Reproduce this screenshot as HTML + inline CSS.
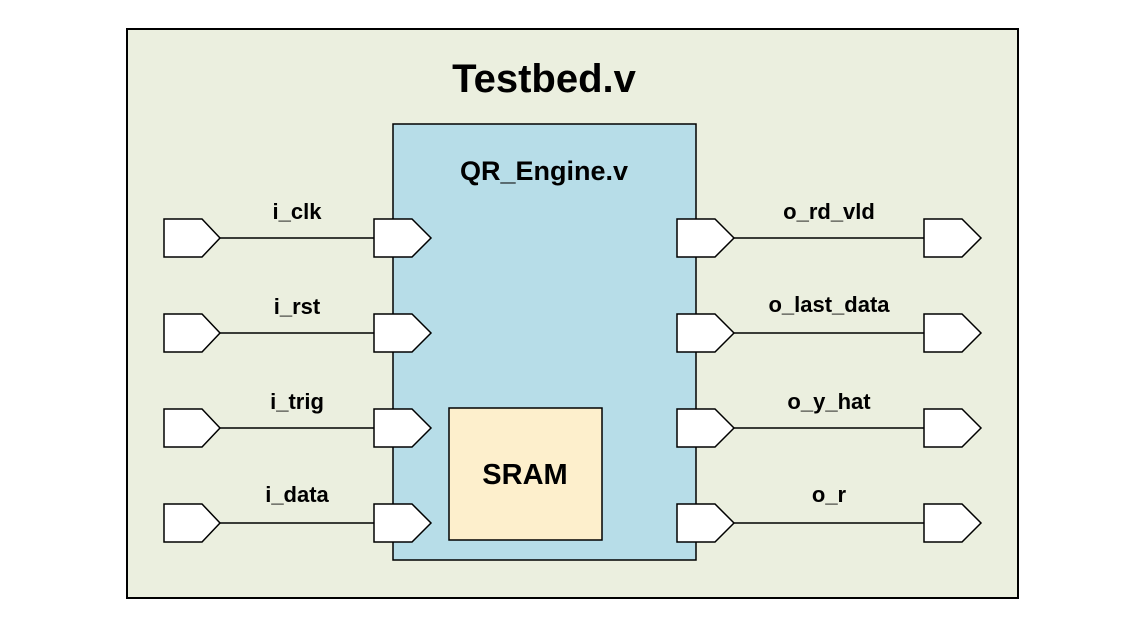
<!DOCTYPE html>
<html><head><style>body{margin:0;background:#fff}</style></head><body>
<svg width="1144" height="630" xmlns="http://www.w3.org/2000/svg" font-family="Liberation Sans, sans-serif" font-weight="bold">
<rect x="127" y="29" width="891" height="569" fill="#ebefdf" stroke="#000" stroke-width="2"/>
<text x="544" y="92" font-size="40" text-anchor="middle">Testbed.v</text>
<rect x="393" y="124" width="303" height="436" fill="#b7dde8" stroke="#000" stroke-width="1.5"/>
<text x="544" y="180" font-size="27" text-anchor="middle">QR_Engine.v</text>
<rect x="449" y="408" width="153" height="132" fill="#fdefcc" stroke="#000" stroke-width="1.5"/>
<text x="525" y="484" font-size="29" text-anchor="middle">SRAM</text>
<g stroke="#000" stroke-width="1.5" fill="#fff">
<g id="r1">
<line x1="220" y1="238" x2="374" y2="238"/>
<polygon points="164,219 202,219 220,238 202,257 164,257"/>
<polygon points="374,219 412,219 431,238 412,257 374,257"/>
<line x1="734" y1="238" x2="924" y2="238"/>
<polygon points="677,219 715,219 734,238 715,257 677,257"/>
<polygon points="924,219 962,219 981,238 962,257 924,257"/>
</g>
<use href="#r1" y="95"/>
<use href="#r1" y="190"/>
<use href="#r1" y="285"/>
</g>
<g font-size="22" text-anchor="middle">
<text x="297" y="219">i_clk</text>
<text x="297" y="314">i_rst</text>
<text x="297" y="409">i_trig</text>
<text x="297" y="502">i_data</text>
<text x="829" y="219">o_rd_vld</text>
<text x="829" y="312">o_last_data</text>
<text x="829" y="409">o_y_hat</text>
<text x="829" y="502">o_r</text>
</g>
</svg>
</body></html>
